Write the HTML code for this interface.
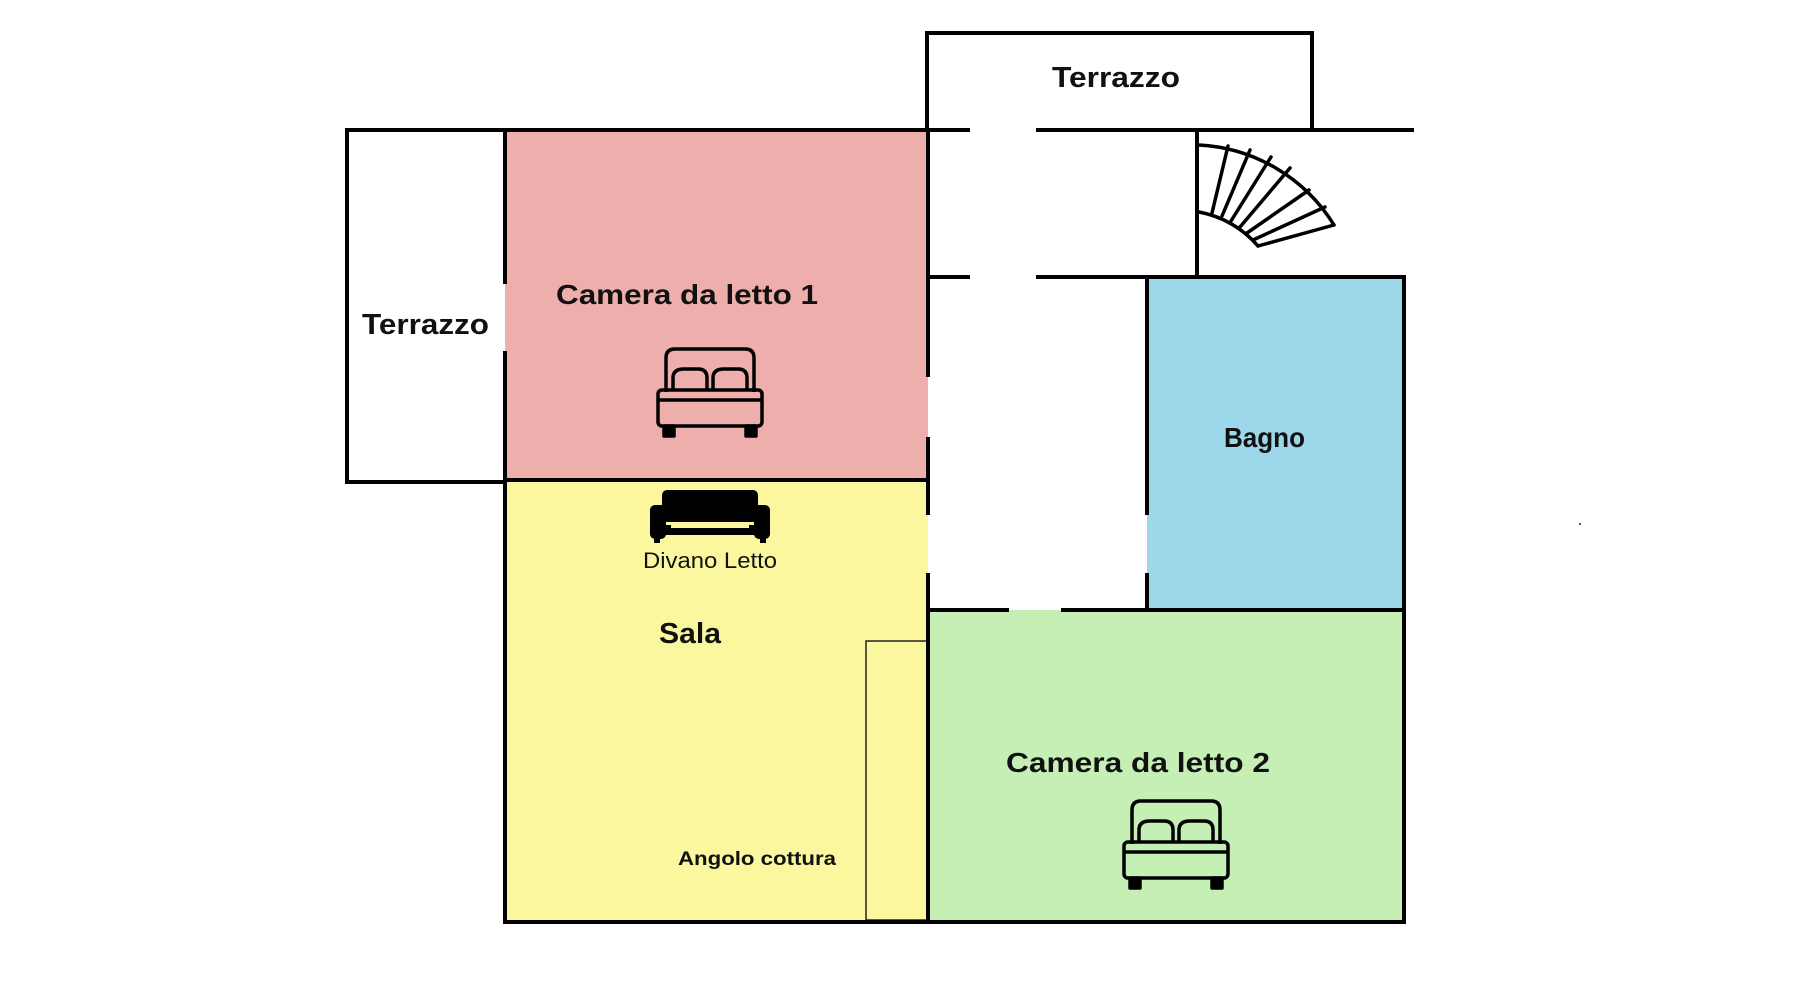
<!DOCTYPE html>
<html><head><meta charset="utf-8"><style>html,body{margin:0;padding:0;background:#fff}svg{display:block}</style></head>
<body>
<svg width="1800" height="1000" viewBox="0 0 1800 1000" xmlns="http://www.w3.org/2000/svg" font-family="Liberation Sans, sans-serif">
<rect width="1800" height="1000" fill="#fff"/>
<rect x="505" y="130" width="423" height="350" fill="#eeaeac"/>
<rect x="505" y="480" width="423" height="442" fill="#fbf79f"/>
<rect x="1147" y="277" width="257" height="333" fill="#9dd8ea"/>
<rect x="928" y="610" width="476" height="312" fill="#c6efb6"/>
<rect x="866" y="641" width="61" height="279" fill="none" stroke="#222" stroke-width="1.5"/>
<g stroke="#000" stroke-width="4" fill="none" stroke-linecap="square">
<polyline points="505,130 347,130 347,482 505,482"/>
<line x1="505" y1="130" x2="505" y2="282"/>
<line x1="505" y1="353" x2="505" y2="922"/>
<line x1="347" y1="130" x2="968" y2="130"/>
<line x1="1038" y1="130" x2="1412" y2="130"/>
<polyline points="927,130 927,33 1312,33 1312,128"/>
<line x1="928" y1="130" x2="928" y2="375"/>
<line x1="928" y1="439" x2="928" y2="513"/>
<line x1="928" y1="575" x2="928" y2="922"/>
<line x1="505" y1="480" x2="928" y2="480"/>
<line x1="505" y1="922" x2="1404" y2="922"/>
<line x1="928" y1="277" x2="968" y2="277"/>
<line x1="1038" y1="277" x2="1404" y2="277"/>
<line x1="1197" y1="130" x2="1197" y2="277"/>
<line x1="1147" y1="277" x2="1147" y2="513"/>
<line x1="1147" y1="575" x2="1147" y2="610"/>
<line x1="1404" y1="277" x2="1404" y2="922"/>
<line x1="928" y1="610" x2="1007" y2="610"/>
<line x1="1063" y1="610" x2="1404" y2="610"/>
</g>
<!-- stairs -->
<g stroke="#000" stroke-width="3.5" fill="none" stroke-linecap="round">
<path d="M1199,145 A169,169 0 0 1 1334,225"/>
<path d="M1199,212 A102,102 0 0 1 1258,246"/>
<line x1="1258" y1="246" x2="1334" y2="225"/>
<line x1="1212" y1="213" x2="1228" y2="146"/>
<line x1="1222" y1="216" x2="1250" y2="150"/>
<line x1="1231" y1="221" x2="1271" y2="157"/>
<line x1="1240" y1="227" x2="1290" y2="168"/>
<line x1="1247" y1="233" x2="1309" y2="190"/>
<line x1="1253" y1="240" x2="1325" y2="207"/>
</g>
<!-- bed icons -->
<g id="bed1" stroke="#000" stroke-width="3.5" fill="none" stroke-linejoin="round">
<path d="M666,392 L666,358 Q666,349 675,349 L745,349 Q754,349 754,358 L754,392"/>
<path d="M673,390 L673,378 Q673,369 684,369 L698,369 Q707,369 707,378 L707,390"/>
<path d="M713,390 L713,378 Q713,369 724,369 L738,369 Q747,369 747,378 L747,390"/>
<rect x="658" y="390" width="104" height="36" rx="4"/>
<line x1="658" y1="400" x2="762" y2="400"/>
<rect x="664" y="426" width="10" height="10" fill="#000"/>
<rect x="746" y="426" width="10" height="10" fill="#000"/>
</g>
<g transform="translate(466,452)" stroke="#000" stroke-width="3.5" fill="none" stroke-linejoin="round">
<path d="M666,392 L666,358 Q666,349 675,349 L745,349 Q754,349 754,358 L754,392"/>
<path d="M673,390 L673,378 Q673,369 684,369 L698,369 Q707,369 707,378 L707,390"/>
<path d="M713,390 L713,378 Q713,369 724,369 L738,369 Q747,369 747,378 L747,390"/>
<rect x="658" y="390" width="104" height="36" rx="4"/>
<line x1="658" y1="400" x2="762" y2="400"/>
<rect x="664" y="426" width="10" height="10" fill="#000"/>
<rect x="746" y="426" width="10" height="10" fill="#000"/>
</g>
<!-- sofa -->
<g fill="#000">
<rect x="662" y="490" width="96" height="32" rx="5"/>
<rect x="650" y="505" width="16" height="34" rx="5"/>
<rect x="754" y="505" width="16" height="34" rx="5"/>
<rect x="650" y="525" width="120" height="10"/>
<rect x="654" y="535" width="6" height="8"/>
<rect x="760" y="535" width="6" height="8"/>
</g>
<rect x="671" y="522" width="78" height="6" fill="#fbf79f"/>
<rect x="1579" y="523" width="2" height="2" fill="#555"/>
<g fill="#111" font-weight="bold">
<text x="362" y="334" font-size="29" textLength="127" lengthAdjust="spacingAndGlyphs">Terrazzo</text>
<text x="1052" y="87" font-size="29" textLength="128" lengthAdjust="spacingAndGlyphs">Terrazzo</text>
<text x="556" y="304" font-size="28" textLength="262" lengthAdjust="spacingAndGlyphs">Camera da letto 1</text>
<text x="1224" y="447" font-size="28" textLength="81" lengthAdjust="spacingAndGlyphs">Bagno</text>
<text x="659" y="643" font-size="29" textLength="62" lengthAdjust="spacingAndGlyphs">Sala</text>
<text x="1006" y="772" font-size="28" textLength="264" lengthAdjust="spacingAndGlyphs">Camera da letto 2</text>
<text x="678" y="865" font-size="19" textLength="158" lengthAdjust="spacingAndGlyphs">Angolo cottura</text>
</g>
<text x="643" y="568" font-size="22" fill="#111" textLength="134" lengthAdjust="spacingAndGlyphs">Divano Letto</text>
</svg>
</body></html>
